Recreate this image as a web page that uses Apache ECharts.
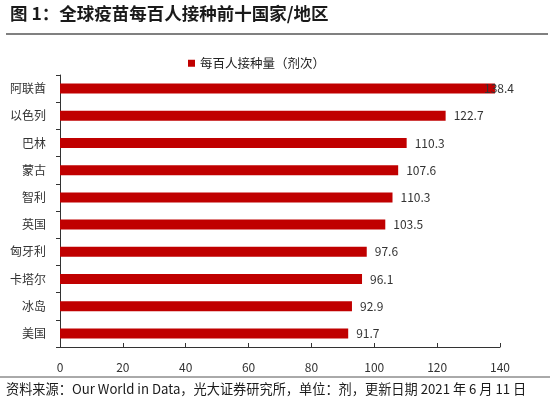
<!DOCTYPE html>
<html>
<head>
<meta charset="utf-8">
<script src="https://cdn.jsdelivr.net/npm/echarts@6/dist/echarts.min.js"></script>
<style>
  html, body { margin: 0; padding: 0; background: #fff; }
  #chart { width: 550px; height: 399px; }
</style>
</head>
<body>
<div id="chart"></div>
<script>
// 数据
var countries = ['阿联酋', '以色列', '巴林', '蒙古', '智利', '英国', '匈牙利', '卡塔尔', '冰岛', '美国']
var doses = [138.4, 122.7, 110.3, 107.6, 105.8, 103.5, 97.6, 96.1, 92.9, 91.7]
// 原图标注（智利一项标注与柱长不一致，照原图保留）
var doseLabels = ['138.4', '122.7', '110.3', '107.6', '110.3', '103.5', '97.6', '96.1', '92.9', '91.7']
var xTicks = [0, 20, 40, 60, 80, 100, 120, 140]

var font = '"Noto Sans CJK SC", "Noto Sans", sans-serif'
var chart = echarts.init(document.getElementById('chart'))

chart.setOption({
  animation: false,
  textStyle: { fontFamily: font },
  title: {
    text: '图 1：全球疫苗每百人接种前十国家/地区',
    left: 5,
    top: 0,
    textStyle: { fontSize: 17.5, fontWeight: 'bold', color: '#1a1a1a', fontFamily: font }
  },
  graphic: [
    {
      type: 'line',
      shape: { x1: 6, y1: 34, x2: 548, y2: 34 },
      style: { stroke: '#808080', lineWidth: 2 }
    },
    {
      type: 'line',
      shape: { x1: 0, y1: 377, x2: 550, y2: 377 },
      style: { stroke: '#555', lineWidth: 1 }
    },
    {
      type: 'text',
      left: 6,
      top: 382,
      style: {
        text: '资料来源：Our World in Data，光大证券研究所，单位：剂，更新日期 2021 年 6 月 11 日',
        fontSize: 13.2,
        fill: '#1a1a1a',
        fontFamily: font
      }
    }
  ],
  legend: {
    top: 52,
    left: 183,
    itemWidth: 7,
    itemHeight: 7,
    itemGap: 5,
    icon: 'rect',
    textStyle: { fontSize: 12.5, color: '#222', fontFamily: font },
    data: ['每百人接种量（剂次）']
  },
  grid: {
    left: 60,
    right: 50,
    top: 75,
    bottom: 52
  },
  xAxis: {
    type: 'value',
    min: xTicks[0],
    max: xTicks[xTicks.length - 1],
    interval: 20,
    splitLine: { show: false },
    axisLine: { show: true, lineStyle: { color: '#333', width: 1 } },
    axisTick: { show: true, inside: true, length: 4, lineStyle: { color: '#333' } },
    axisLabel: { fontSize: 12, color: '#333', margin: 14, fontFamily: font }
  },
  yAxis: {
    type: 'category',
    inverse: true,
    data: countries,
    axisLine: { show: true, lineStyle: { color: '#333', width: 1 } },
    axisTick: { show: true, length: 4, lineStyle: { color: '#333' } },
    axisLabel: { fontSize: 12, color: '#333', margin: 14, fontFamily: font }
  },
  series: [
    {
      name: '每百人接种量（剂次）',
      type: 'bar',
      barWidth: 10,
      itemStyle: { color: '#C00000' },
      label: {
        show: true,
        position: 'right',
        distance: 8,
        fontSize: 12,
        color: '#333',
        fontFamily: font,
        formatter: function (p) { return doseLabels[p.dataIndex] }
      },
      data: doses.map(function (v, i) {
        return i === 0 ? { value: v, label: { offset: [-19, 0] } } : v
      })
    }
  ]
})
</script>
</body>
</html>
